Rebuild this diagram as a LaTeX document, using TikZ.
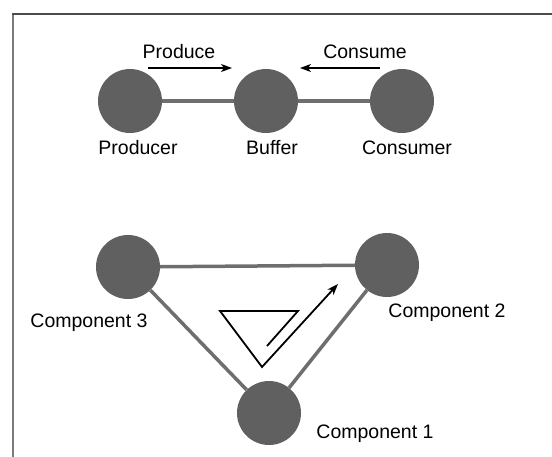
\documentclass[tikz,border=0pt]{standalone}
\usepackage{fontspec}
\setmainfont{Liberation Sans}
\usepackage{tikz}
\usetikzlibrary{arrows.meta,positioning}
\definecolor{unitgray}{HTML}{606060}
\definecolor{linkgray}{HTML}{6E6E6E}
\definecolor{framegray}{HTML}{7A7A7A}
\tikzset
{
    unit/.style    = {circle, fill=unitgray, minimum size=64pt, inner sep=0pt},
    link/.style    = {draw=linkgray, line width=3.5pt},
    caption/.style = {font=\fontsize{19.5}{22}\selectfont, inner sep=0pt, anchor=base},
    flow/.style    = {-{Stealth[length=11pt, width=8pt, inset=3pt]}, line width=1.5pt}
}

\begin{document}
\begin{tikzpicture}[x=1pt, y=-1pt]
    \useasboundingbox (0,0) rectangle (552,457);
    % open frame
    \draw[framegray, line width=2.5pt] (13,460) -- (13,14);
    \draw[black!70, line width=2pt] (12,14) -- (555,14);

    % producer / buffer / consumer
    \node [unit] (producer) at (130,101) {};
    \node [unit] (buffer)   at (266,101) {};
    \node [unit] (consumer) at (402,101) {};
    \draw [link] (producer) -- (buffer);
    \draw [link] (buffer) -- (consumer);
    \node [caption] (producerlabel) at (138,155) {Producer};
    \node [caption] (bufferlabel)   at (272,155) {Buffer};
    \node [caption] (consumerlabel) at (407,155) {Consumer};

    \coordinate (producefrom) at (148,68);
    \coordinate (produceto)   at (232,68);
    \coordinate (consumefrom) at (380,68);
    \coordinate (consumeto)   at (300,68);
    \draw [flow] (producefrom) -- (produceto);
    \draw [flow] (consumefrom) -- (consumeto);
    \node [caption] (producelabel) at (179,59) {Produce};
    \node [caption] (consumelabel) at (365,59) {Consume};

    % three components in a ring
    \node [unit] (comp1) at (269,413) {};
    \node [unit] (comp2) at (387,265) {};
    \node [unit] (comp3) at (128,267) {};
    \draw [link] (comp3) -- (comp2);
    \draw [link] (comp2) -- (comp1);
    \draw [link] (comp1) -- (comp3);
    \node [caption] (comp1label) at (375,438) {Component 1};
    \node [caption] (comp2label) at (447,317) {Component 2};
    \node [caption] (comp3label) at (89,327) {Component 3};

    % turning arrow in the middle of the ring
    \coordinate (turnstart) at (267,346);
    \coordinate (turnright) at (298,311);
    \coordinate (turnleft)  at (220,311);
    \coordinate (turnlow)   at (262,367);
    \coordinate (turnend)   at (338,284);
    \draw [flow, line width=1.8pt, line join=miter]
        (turnstart) -- (turnright) -- (turnleft) -- (turnlow) -- (turnend);
\end{tikzpicture}
\end{document}
